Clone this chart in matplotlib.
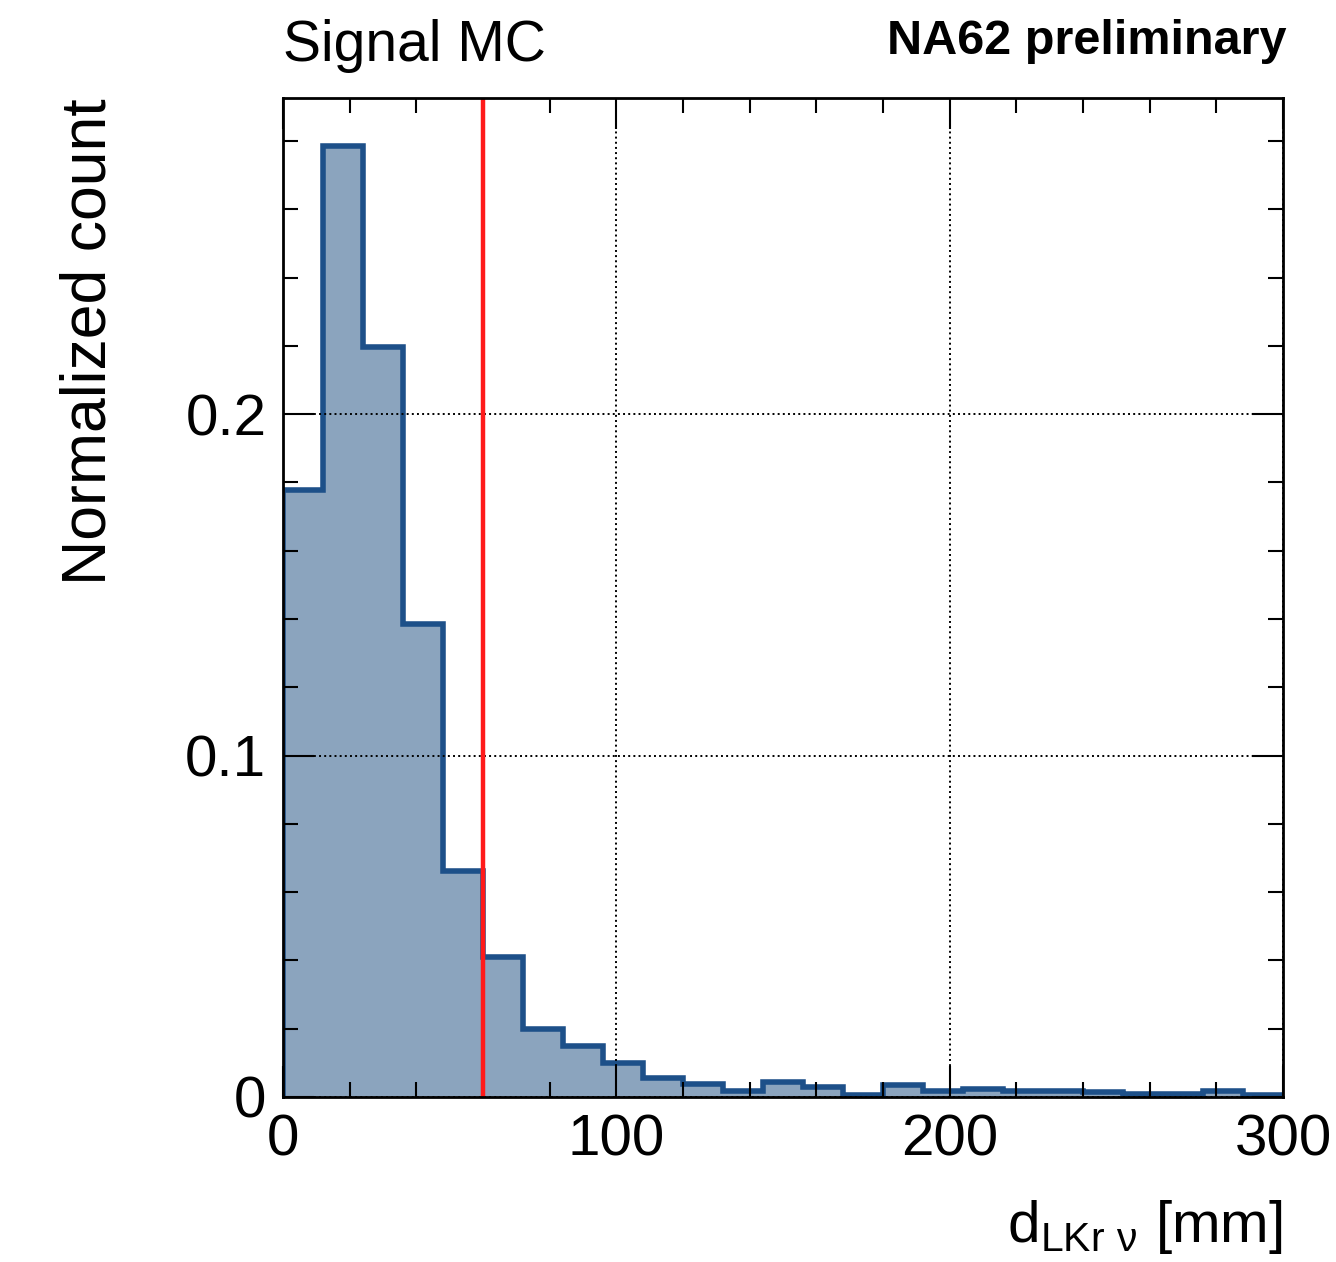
import numpy as np
import matplotlib
matplotlib.use("Agg")
import matplotlib.pyplot as plt
from matplotlib.ticker import MultipleLocator

plt.rcParams['font.family'] = ['Liberation Sans', 'DejaVu Sans']
plt.rcParams['mathtext.fontset'] = 'custom'
plt.rcParams['mathtext.rm'] = 'Liberation Sans'

# histogram: 25 bins of 12 mm from 0 to 300
bin_edges = np.arange(0, 301, 12)
counts = [0.1778, 0.2785, 0.2196, 0.1386, 0.0661, 0.0409, 0.0199, 0.0149,
          0.0099, 0.0055, 0.0038, 0.0016, 0.0045, 0.0030, 0.0006, 0.0035,
          0.0016, 0.0023, 0.0016, 0.0016, 0.0015, 0.0010, 0.0010, 0.0016,
          0.0005]
cut_value = 60
xmax = 300
ymax = 0.2926

fig = plt.figure(figsize=(13.36, 12.62), dpi=100)
ax = fig.add_axes([0.2118, 0.1308, 0.7485, 0.7915])

ax.stairs(counts, bin_edges, fill=True, color='#8ba4be', linewidth=0)
ax.stairs(counts, bin_edges, fill=False, color='#1d5089', linewidth=4)
ax.plot([cut_value, cut_value], [0, ymax], color='#ff1a1a', linewidth=3.2)

ax.set_xlim(0, xmax)
ax.set_ylim(0, ymax)
ax.xaxis.set_major_locator(MultipleLocator(100))
ax.xaxis.set_minor_locator(MultipleLocator(20))
ax.yaxis.set_major_locator(MultipleLocator(0.1))
ax.yaxis.set_minor_locator(MultipleLocator(0.02))
ax.yaxis.set_major_formatter(plt.FuncFormatter(lambda v, p: '0' if abs(v) < 1e-9 else f'{v:.1f}'))
ax.xaxis.set_major_formatter(plt.FuncFormatter(lambda v, p: f'{v:.0f}'))

ax.tick_params(which='both', direction='in', top=True, right=True,
               labelsize=42, width=1.5, colors='black')
ax.tick_params(which='major', length=22, pad=12)
ax.tick_params(which='minor', length=11)
ax.grid(True, which='major', linestyle=':', color='black', linewidth=1.4)
for s in ax.spines.values():
    s.set_linewidth(2)

ax.set_ylabel('Normalized count', fontsize=45, loc='top', labelpad=48)
ax.set_xlabel(r'd$_{\mathrm{LKr\ ν}}$ [mm]', fontsize=42, loc='right', labelpad=22)

fig.text(0.2118, 0.942, 'Signal MC', fontsize=41, ha='left', va='bottom')
fig.text(0.963, 0.949, 'NA62 preliminary', fontsize=35, fontweight='bold',
         ha='right', va='bottom')

fig.savefig('out.png', dpi=100)
